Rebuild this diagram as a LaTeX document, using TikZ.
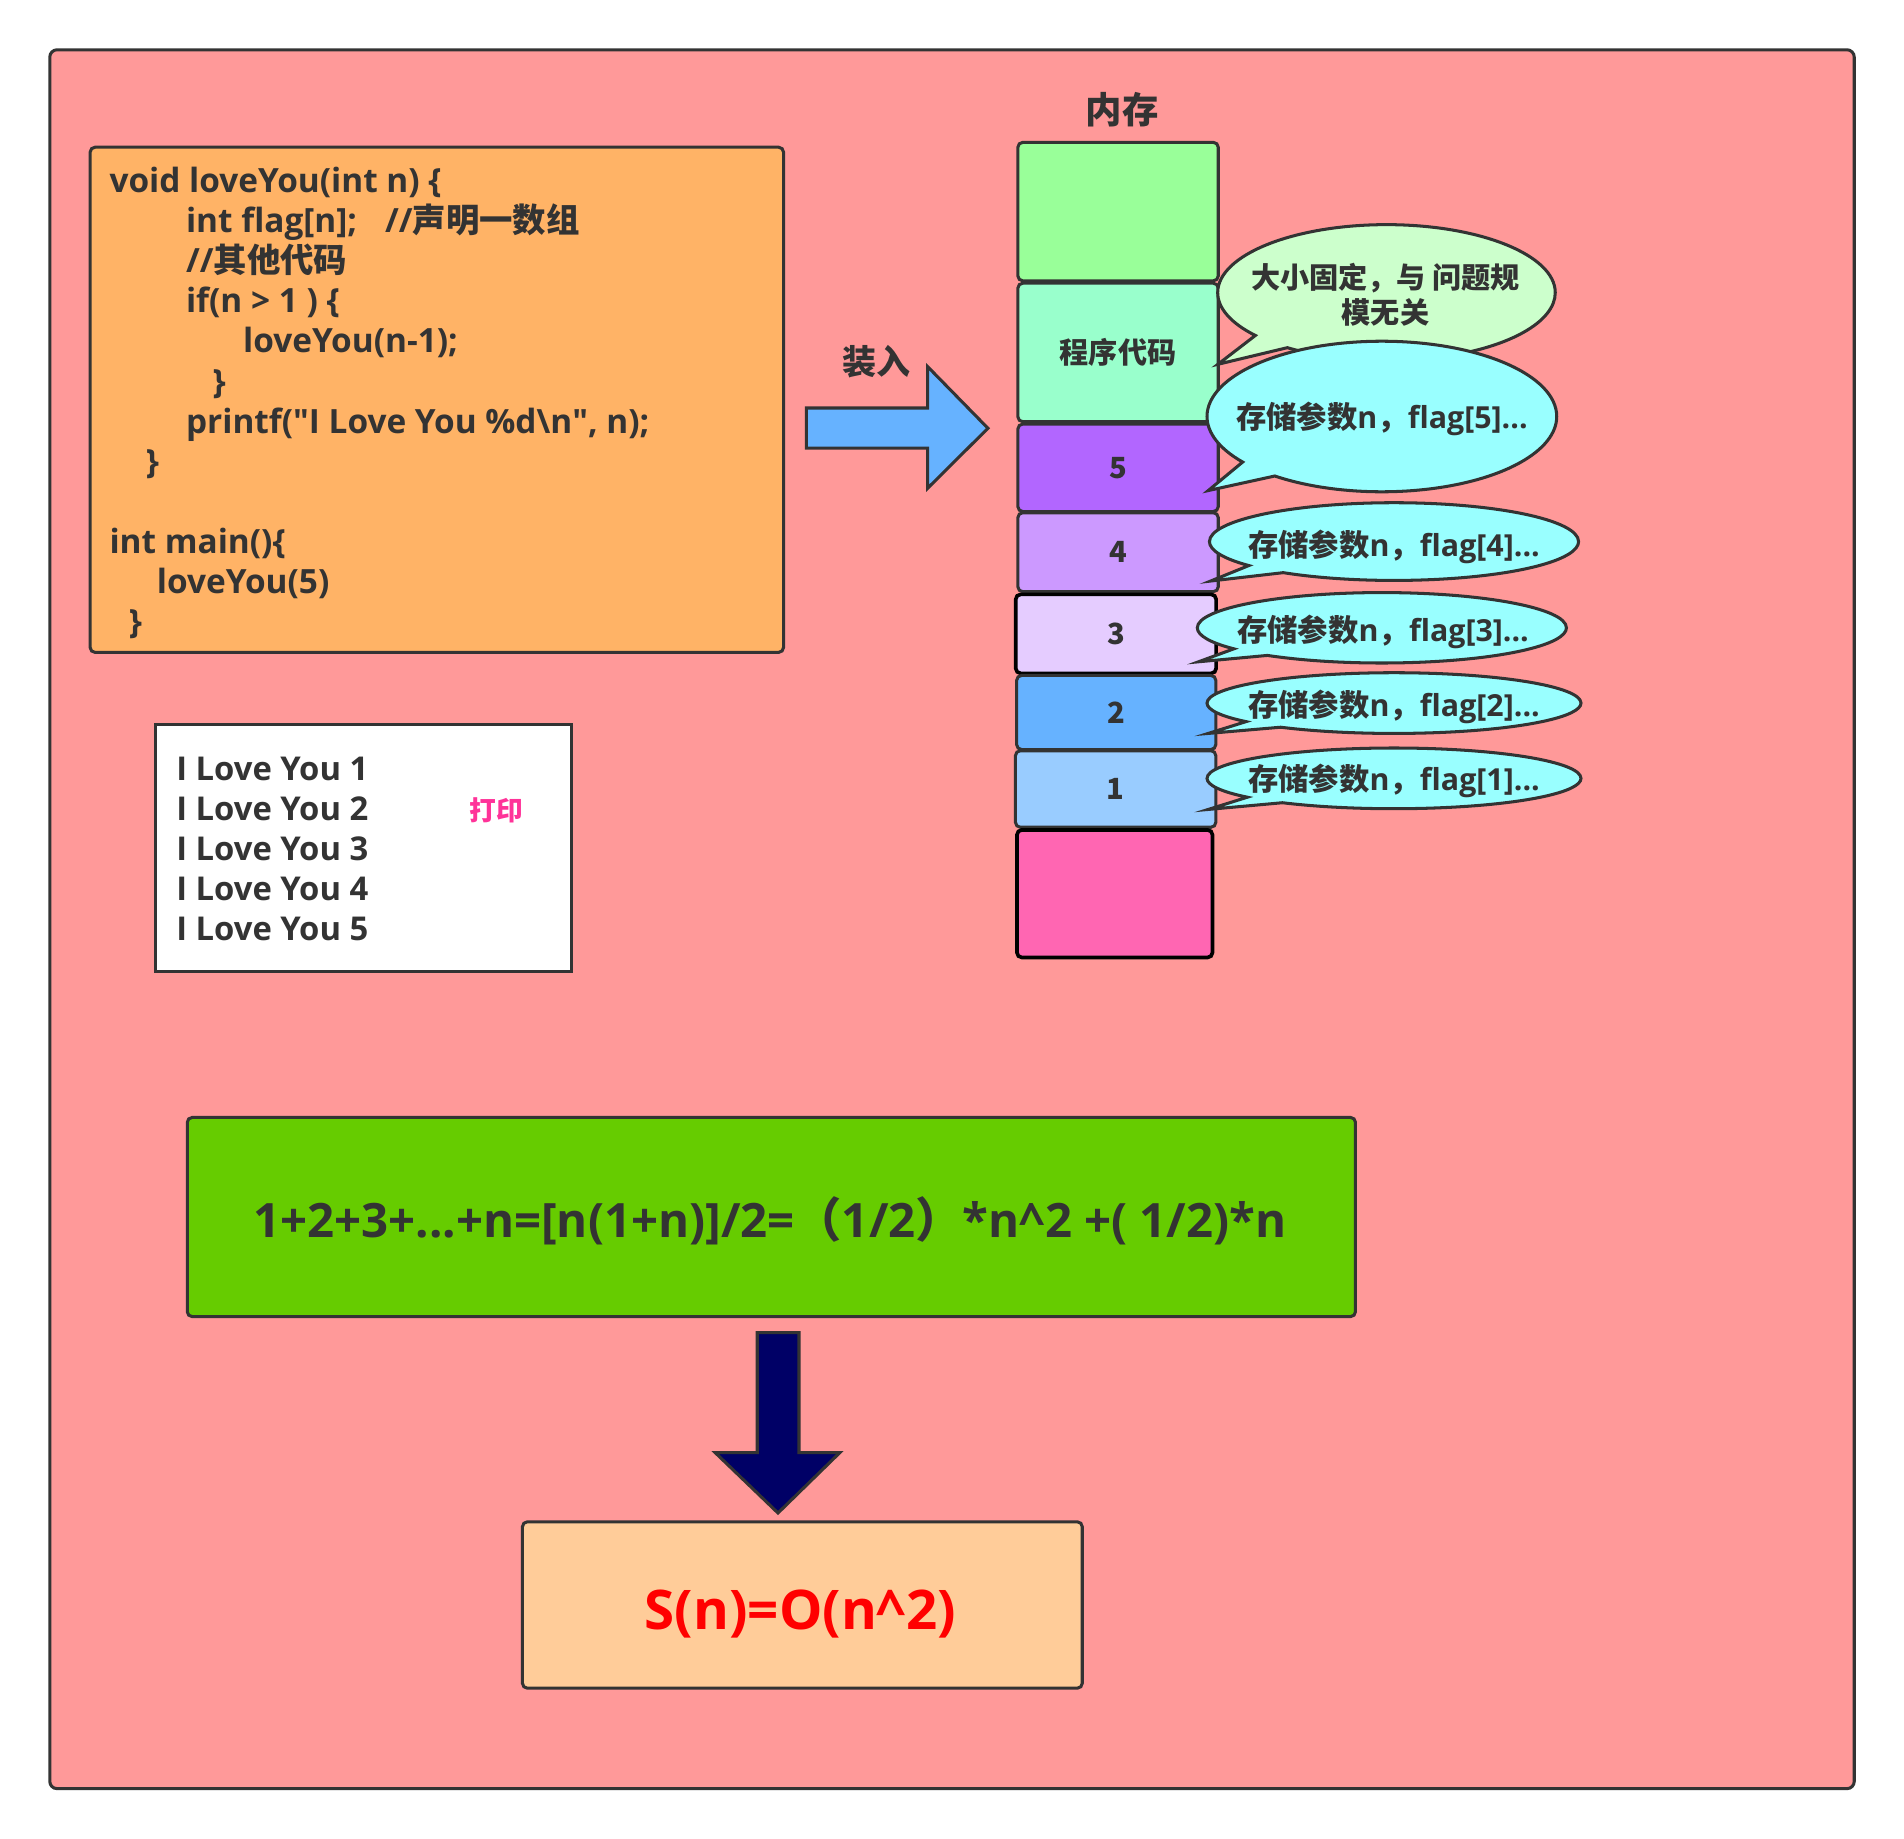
\documentclass[tikz,border=0pt]{standalone}
\usepackage{fontspec}
\setmainfont{Open Sans}
\newfontfamily\cjk{Noto Sans CJK SC}
\usetikzlibrary{shapes.callouts}
\definecolor{dk}{HTML}{333333}
\definecolor{bgpink}{HTML}{FF9999}
\definecolor{codeor}{HTML}{FFB366}
\definecolor{mgreen}{HTML}{99FF99}
\definecolor{mmint}{HTML}{99FFCC}
\definecolor{mfive}{HTML}{B266FF}
\definecolor{mfour}{HTML}{CC99FF}
\definecolor{mthree}{HTML}{E5CCFF}
\definecolor{mtwo}{HTML}{66B2FF}
\definecolor{mone}{HTML}{99CCFF}
\definecolor{mpink}{HTML}{FF66B2}
\definecolor{cyanc}{HTML}{99FFFF}
\definecolor{lgreen}{HTML}{CCFFCC}
\definecolor{formg}{HTML}{66CC00}
\definecolor{resor}{HTML}{FFCC99}
\definecolor{navy}{HTML}{000066}
\definecolor{printpink}{HTML}{FF3399}
\begin{document}
\begin{tikzpicture}[x=1pt,y=-1pt,
  box/.style={draw=dk, line width=2.5pt, rounded corners=4pt, anchor=north west, inner sep=0pt},
  blk/.style={draw=dk, line width=2.5pt, rounded corners=4pt, anchor=north west, inner sep=0pt, text=dk, font=\cjk\bfseries\fontsize{24}{29}\selectfont},
  blkb/.style={blk, draw=black, line width=3pt},
  codet/.style={text=dk, inner sep=0pt, anchor=mid west, yshift=-6pt, font=\bfseries\fontsize{27.5}{32}\selectfont},
  calt/.style={text=dk, inner sep=0pt, font=\bfseries\fontsize{25}{30}\selectfont},
  bubble/.style={ellipse callout, draw=dk, line width=2.5pt, inner sep=0pt, fill=cyanc},
  barrow/.style={draw=dk, line width=2.5pt}
]
\useasboundingbox (0,0) rectangle (1568,1514);
\fill[white] (0,0) rectangle (1568,1514);
% outer frame
\draw[draw=dk, line width=2.5pt, fill=bgpink, rounded corners=6pt] (41,41) rectangle (1527,1473);

% code box
\node[box, fill=codeor, minimum width=571pt, minimum height=416pt] (code) at (73,120) {};
\node[codet] (c1) at (90,150) {void loveYou(int n) \{};
\node[codet] (c2) at (153,183) {\makebox[164pt][l]{int flag[n];}//{\cjk 声明一数组}};
\node[codet] (c3) at (153,216) {//{\cjk 其他代码}};
\node[codet] (c4) at (153,249) {if(n > 1 ) \{};
\node[codet] (c5) at (200,282) {loveYou(n-1);};
\node[codet] (c6) at (175,315) {\}};
\node[codet] (c7) at (153,348) {printf(\textquotedbl I Love You \%d\textbackslash n\textquotedbl, n);};
\node[codet] (c8) at (120,381) {\}};
\node[codet] (c9) at (90,447) {int main()\{};
\node[codet] (c10) at (129,480) {loveYou(5)};
\node[codet] (c11) at (106,513) {\}};

% load arrow
\node[text=dk, inner sep=0pt, font=\cjk\bfseries\fontsize{28}{32}\selectfont] (load) at (722,298) {装入};
\draw[barrow, fill=mtwo] (664,336) -- (764,336) -- (764,302) -- (813.6,352.7) -- (764,402) -- (764,369) -- (664,369) -- cycle;

% memory
\node[text=dk, inner sep=0pt, font=\cjk\bfseries\fontsize{30}{34}\selectfont] (memt) at (924,90) {内存};
\node[blk, fill=mgreen, minimum width=165pt, minimum height=114pt] (m0) at (837,116) {};
\node[blk, fill=mmint, minimum width=165pt, minimum height=114pt] (mc) at (837,232) {程序代码};
\node[blk, fill=mfive, minimum width=165pt, minimum height=72pt] (m5) at (837,348) {5};
\node[blk, fill=mfour, minimum width=165pt, minimum height=65pt] (m4) at (837,421) {4};
\node[blkb, fill=mthree, minimum width=165pt, minimum height=65pt] (m3) at (835,488) {3};
\node[blk, fill=mtwo, minimum width=164pt, minimum height=61pt] (m2) at (836,555) {2};
\node[blk, fill=mone, minimum width=165pt, minimum height=63pt] (m1) at (835,617) {1};
\node[blkb, fill=mpink, minimum width=161pt, minimum height=105pt] (mp) at (836,682) {};

% callouts
\node[bubble, fill=lgreen, minimum width=278pt, minimum height=112pt, callout absolute pointer={(1003,300)}] (kb) at (1141.8,241) {};
\node[calt, align=center, font=\bfseries\fontsize{24}{29}\selectfont] (kbt) at (1141,243) {{\cjk 大小固定，与 问题规}\\{\cjk 模无关}};
\node[bubble, minimum width=288pt, minimum height=124pt, callout absolute pointer={(995,404)}] (k5) at (1138,343) {};
\node[calt] (k5t) at (1138,345) {{\cjk 存储参数}n{\cjk ，}flag[5]...};
\node[bubble, minimum width=304pt, minimum height=64pt, callout absolute pointer={(997,478.5)}] (k4) at (1148,446) {};
\node[calt] (k4t) at (1148,450) {{\cjk 存储参数}n{\cjk ，}flag[4]...};
\node[bubble, minimum width=304pt, minimum height=58pt, callout absolute pointer={(987,545)}] (k3) at (1138,517) {};
\node[calt] (k3t) at (1139,520) {{\cjk 存储参数}n{\cjk ，}flag[3]...};
\node[bubble, minimum width=308pt, minimum height=50pt, callout absolute pointer={(995,604)}] (k2) at (1148,579) {};
\node[calt] (k2t) at (1148,582) {{\cjk 存储参数}n{\cjk ，}flag[2]...};
\node[bubble, minimum width=308pt, minimum height=50pt, callout absolute pointer={(995,666.6)}] (k1) at (1148,641) {};
\node[calt] (k1t) at (1148,643) {{\cjk 存储参数}n{\cjk ，}flag[1]...};

% print box
\node[draw=dk, line width=2.5pt, fill=white, anchor=north west, inner sep=0pt, minimum width=342pt, minimum height=204pt] (pbox) at (127,595) {};
\node[codet, font=\bfseries\fontsize{27}{32}\selectfont] (p1) at (145,634) {I Love You 1};
\node[codet, font=\bfseries\fontsize{27}{32}\selectfont] (p2) at (145,667) {I Love You 2};
\node[codet, font=\bfseries\fontsize{27}{32}\selectfont] (p3) at (145,700) {I Love You 3};
\node[codet, font=\bfseries\fontsize{27}{32}\selectfont] (p4) at (145,733) {I Love You 4};
\node[codet, font=\bfseries\fontsize{27}{32}\selectfont] (p5) at (145,766) {I Love You 5};
\node[text=printpink, inner sep=0pt, font=\cjk\bfseries\fontsize{22}{26}\selectfont] (pl) at (409,667) {打印};

% formula
\node[box, fill=formg, minimum width=962pt, minimum height=164pt] (form) at (153,919) {};
\node[text=dk, inner sep=0pt, font=\bfseries\fontsize{39}{44}\selectfont] (formt) at (634,1005) {1+2+3+...+n=[n(1+n)]/2={\cjk （}1/2{\cjk ）}*n\textasciicircum 2 +( 1/2)*n};

% down arrow
\draw[barrow, fill=navy] (623.6,1097.5) -- (658,1097.5) -- (658,1196.3) -- (691.6,1196.3) -- (640.7,1246) -- (589,1196.3) -- (623.6,1196.3) -- cycle;

% result
\node[box, fill=resor, minimum width=461pt, minimum height=137pt] (res) at (429,1252) {};
\node[text=red, inner sep=0pt, font=\bfseries\fontsize{45}{52}\selectfont] (rest) at (659,1329) {S(n)=O(n\textasciicircum 2)};
\end{tikzpicture}
\end{document}
